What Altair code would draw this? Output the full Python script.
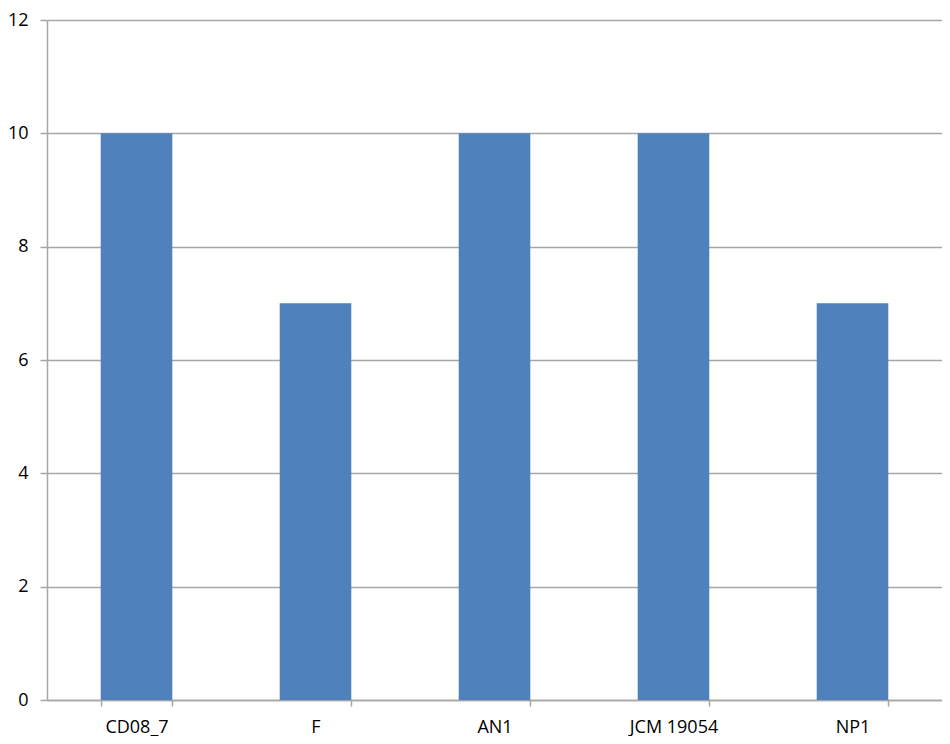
import altair as alt
import pandas as pd

categories = ["CD08_7", "F", "AN1", "JCM 19054", "NP1"]
values = [10, 7, 10, 10, 7]

df = pd.DataFrame({"cat": categories, "val": values})

FONT = "Open Sans"
GRID = "#a6a6a6"

chart = alt.Chart(df).mark_bar(color="#4F81BD").encode(
    x=alt.X("cat:N", sort=categories, title=None,
            scale=alt.Scale(paddingInner=0.6, paddingOuter=0.3),
            axis=alt.Axis(labelAngle=0, tickBand="extent", grid=False,
                          domainColor=GRID, domainWidth=1.5, tickColor=GRID, tickWidth=1.5,
                          tickSize=6, labelPadding=12, labelFont=FONT, labelFontSize=18,
                          labelColor="#000000")),
    y=alt.Y("val:Q", title=None,
            scale=alt.Scale(domain=[0, 12]),
            axis=alt.Axis(values=[0, 2, 4, 6, 8, 10, 12], grid=True, gridColor=GRID, gridWidth=1.5,
                          domainColor=GRID, domainWidth=1.5, tickColor=GRID, tickWidth=1.5,
                          tickSize=7, labelPadding=12, labelFont=FONT, labelFontSize=18,
                          labelColor="#000000")),
).properties(
    width=895, height=680,
    autosize=alt.AutoSizeParams(type="none"),
    padding={"left": 39, "top": 12, "right": 0, "bottom": 36},
).configure_view(stroke=None)

chart.save("out.html", embed_options={"renderer": "svg", "actions": False})
